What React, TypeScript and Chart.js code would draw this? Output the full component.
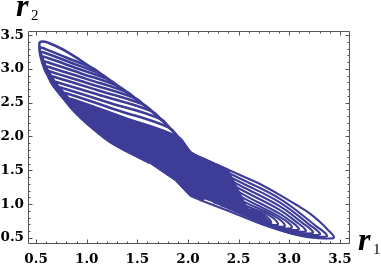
import React, { useEffect, useRef } from 'react';
import { Chart, registerables } from 'chart.js';

Chart.register(...registerables);

const BLUE = '#3d3d98';

const X_MIN = 0.42;
const X_MAX = 3.6;
const Y_MIN = 0.41;
const Y_MAX = 3.56;

const xMajorTicks = [0.5, 1.0, 1.5, 2.0, 2.5, 3.0, 3.5];
const xTickLabels = ['0.5', '1.0', '1.5', '2.0', '2.5', '3.0', '3.5'];
const yMajorTicks = [0.5, 1.0, 1.5, 2.0, 2.5, 3.0, 3.5];
const yTickLabels = ['0.5', '1.0', '1.5', '2.0', '2.5', '3.0', '3.5'];
const minorTicks = [0.6, 0.7, 0.8, 0.9, 1.1, 1.2, 1.3, 1.4, 1.6, 1.7, 1.8, 1.9, 2.1, 2.2, 2.3, 2.4, 2.6, 2.7, 2.8, 2.9, 3.1, 3.2, 3.3, 3.4];

const xTitle = 'r';
const xTitleSub = '1';
const yTitle = 'r';
const yTitleSub = '2';

// dense centre of the orbit
const core: [number, number][] = [[0.828,2.554],[0.878,2.539],[1.362,2.282],[1.896,1.996],[1.995,1.822],[2.049,1.748],[2.168,1.674],[2.296,1.585],[2.395,1.519],[2.593,0.928],[2.711,0.877],[2.820,0.736],[2.751,0.718],[2.524,0.893],[2.178,1.079],[2.119,1.053],[2.020,1.115],[1.872,1.348],[1.625,1.600],[1.427,1.748],[1.230,1.911],[1.072,2.088],[0.943,2.258],[0.845,2.406],[0.828,2.554]];

// loops turning in the upper-left lobe
const loopC0: [number, number][] = [[1.625,1.609],[1.427,1.757],[1.230,1.921],[1.077,2.098],[0.948,2.266],[0.850,2.414],[0.751,2.598],[0.701,2.687],[0.652,2.791],[0.618,2.894],[0.583,2.998],[0.543,3.190],[0.534,3.316],[0.537,3.393],[0.588,3.400],[0.637,3.375],[0.736,3.309],[0.835,3.227],[0.934,3.131],[1.131,2.931],[1.329,2.724],[1.526,2.510],[1.724,2.266],[1.872,2.044],[2.020,1.777]];
const loopC1: [number, number][] = [[0.914,2.317],[0.785,2.539],[0.671,2.761],[0.593,2.983],[0.546,3.224],[0.537,3.313],[0.586,3.296],[0.797,3.168],[1.057,3.009],[1.156,2.905]];
const loopC2: [number, number][] = [[0.920,2.317],[0.790,2.539],[0.677,2.761],[0.599,2.983],[0.561,3.158],[0.547,3.246],[0.597,3.230],[0.844,3.091],[1.141,2.921],[1.240,2.817]];
const loopC3: [number, number][] = [[0.925,2.317],[0.796,2.539],[0.682,2.761],[0.604,2.983],[0.580,3.090],[0.559,3.178],[0.609,3.163],[0.892,3.013],[1.225,2.833],[1.324,2.729]];
const loopC4: [number, number][] = [[0.931,2.317],[0.801,2.539],[0.688,2.761],[0.601,3.017],[0.579,3.106],[0.628,3.091],[0.944,2.933],[1.309,2.745],[1.408,2.641]];
const loopC5: [number, number][] = [[0.936,2.317],[0.807,2.539],[0.693,2.761],[0.628,2.943],[0.600,3.032],[0.649,3.018],[0.996,2.852],[1.393,2.657],[1.492,2.548]];
const loopC6: [number, number][] = [[0.941,2.317],[0.812,2.539],[0.699,2.761],[0.659,2.869],[0.626,2.958],[0.675,2.944],[1.051,2.769],[1.477,2.565],[1.575,2.454]];
const loopC7: [number, number][] = [[0.947,2.317],[0.818,2.539],[0.689,2.794],[0.657,2.883],[0.706,2.869],[1.109,2.684],[1.561,2.471],[1.659,2.352]];
const loopC8: [number, number][] = [[0.952,2.317],[0.823,2.539],[0.732,2.714],[0.689,2.803],[0.738,2.789],[1.167,2.595],[1.645,2.372],[1.743,2.236]];
const loopC9: [number, number][] = [[0.958,2.317],[0.857,2.480],[0.782,2.631],[0.732,2.720],[0.781,2.706],[1.230,2.496],[1.729,2.258],[1.827,2.110]];
const loopC10: [number, number][] = [[0.963,2.317],[0.828,2.550],[0.780,2.638],[0.829,2.624],[1.296,2.393],[1.812,2.132],[1.911,1.971]];
const loopC11: [number, number][] = [[0.969,2.317],[0.876,2.465],[0.828,2.554],[0.878,2.539],[1.362,2.282],[1.896,1.996],[1.995,1.822]];

// loops turning in the lower-right lobe
const loopU0: [number, number][] = [[2.020,1.777],[2.119,1.689],[2.346,1.541],[2.514,1.430],[2.681,1.319],[2.909,1.134],[3.106,0.956],[3.205,0.860],[3.304,0.735],[3.373,0.633],[3.442,0.510],[3.373,0.492],[3.146,0.520],[2.800,0.664],[2.415,0.890],[2.119,1.060]];
const loopU1: [number, number][] = [[2.168,1.622],[2.514,1.378],[2.909,1.078],[3.264,0.675],[3.373,0.535],[3.304,0.517],[3.077,0.547],[2.731,0.714]];
const loopU2: [number, number][] = [[2.168,1.588],[2.514,1.326],[2.909,1.023],[3.195,0.701],[3.304,0.560],[3.235,0.542],[3.007,0.582],[2.662,0.764]];
const loopU3: [number, number][] = [[2.168,1.554],[2.514,1.275],[2.909,0.967],[3.126,0.726],[3.235,0.585],[3.165,0.567],[2.938,0.618],[2.593,0.814]];
const loopU4: [number, number][] = [[2.168,1.520],[2.514,1.223],[2.909,0.912],[3.057,0.751],[3.165,0.610],[3.096,0.593],[2.869,0.653],[2.524,0.859]];
const loopU5: [number, number][] = [[2.168,1.486],[2.514,1.171],[2.909,0.856],[2.988,0.776],[3.096,0.635],[3.027,0.618],[2.800,0.696],[2.454,0.902]];
const loopU6: [number, number][] = [[2.168,1.452],[2.514,1.119],[2.919,0.801],[3.027,0.661],[2.958,0.643],[2.731,0.746],[2.385,0.945]];
const loopU7: [number, number][] = [[2.168,1.418],[2.514,1.067],[2.849,0.826],[2.958,0.686],[2.889,0.668],[2.662,0.798],[2.316,0.988]];
const loopU8: [number, number][] = [[2.168,1.384],[2.514,1.016],[2.780,0.851],[2.889,0.711],[2.820,0.693],[2.593,0.848],[2.247,1.030]];
const loopU9: [number, number][] = [[2.168,1.350],[2.514,0.964],[2.711,0.877],[2.820,0.736],[2.751,0.718],[2.524,0.893],[2.178,1.079]];

const upperLoops = [loopC0, loopC1, loopC2, loopC3, loopC4, loopC5, loopC6, loopC7, loopC8, loopC9, loopC10, loopC11];
const lowerLoops = [loopU0, loopU1, loopU2, loopU3, loopU4, loopU5, loopU6, loopU7, loopU8, loopU9];

const toXY = (pts: [number, number][]) => pts.map(([x, y]) => ({ x, y }));

const framePlugin = {
  id: 'frameAndTitles',
  afterDraw(chart: any) {
    const { ctx, chartArea, scales } = chart;
    const { left, right, top, bottom } = chartArea;
    const xs = scales.x;
    const ys = scales.y;
    ctx.save();
    ctx.strokeStyle = '#555';
    ctx.lineWidth = 1;
    ctx.beginPath();
    ctx.rect(left + 0.5, top + 0.5, right - left - 1, bottom - top - 1);
    ctx.stroke();
    const drawX = (v: number, len: number) => {
      const p = Math.round(xs.getPixelForValue(v)) + 0.5;
      ctx.moveTo(p, bottom);
      ctx.lineTo(p, bottom - len);
      ctx.moveTo(p, top);
      ctx.lineTo(p, top + len);
    };
    const drawY = (v: number, len: number) => {
      const p = Math.round(ys.getPixelForValue(v)) + 0.5;
      ctx.moveTo(left, p);
      ctx.lineTo(left + len, p);
      ctx.moveTo(right, p);
      ctx.lineTo(right - len, p);
    };
    ctx.beginPath();
    xMajorTicks.forEach((v) => drawX(v, 4.5));
    minorTicks.forEach((v) => drawX(v, 2.5));
    yMajorTicks.forEach((v) => drawY(v, 4.5));
    minorTicks.forEach((v) => drawY(v, 2.5));
    ctx.stroke();

    ctx.fillStyle = '#000';
    ctx.textBaseline = 'alphabetic';
    ctx.textAlign = 'left';
    ctx.font = 'italic bold 32px "Liberation Serif"';
    ctx.fillText(yTitle, 16, 16);
    ctx.fillText(xTitle, 358, 250);
    ctx.font = '15px "Liberation Serif"';
    ctx.fillText(yTitleSub, 31, 20);
    ctx.fillText(xTitleSub, 373, 254);
    ctx.restore();
  },
};

export default function App() {
  const ref = useRef<HTMLCanvasElement | null>(null);
  useEffect(() => {
    if (!ref.current) return;
    const tickFont = { family: '"DejaVu Serif"', weight: 'bold' as const, size: 13.5 };
    const datasets: any[] = [];
    datasets.push({
      data: toXY(core),
      borderColor: BLUE,
      borderWidth: 1,
      backgroundColor: BLUE,
      fill: 'shape',
      tension: 0,
      pointRadius: 0,
    });
    upperLoops.forEach((pts) => {
      datasets.push({
        data: toXY(pts),
        borderColor: BLUE,
        borderWidth: 2.6,
        fill: false,
        tension: 0.4,
        pointRadius: 0,
      });
    });
    lowerLoops.forEach((pts) => {
      datasets.push({
        data: toXY(pts),
        borderColor: BLUE,
        borderWidth: 2.1,
        fill: false,
        tension: 0.4,
        pointRadius: 0,
      });
    });
    const chart = new Chart(ref.current, {
      type: 'line',
      data: { datasets },
      options: {
        animation: false,
        responsive: false,
        devicePixelRatio: 1,
        events: [],
        layout: { padding: { top: 31, right: 31, left: 0, bottom: 0 } },
        plugins: { legend: { display: false }, tooltip: { enabled: false } },
        scales: {
          x: {
            type: 'linear',
            min: X_MIN,
            max: X_MAX,
            grid: { display: false, drawTicks: false },
            border: { display: false },
            afterBuildTicks: (s: any) => {
              s.ticks = xMajorTicks.map((v) => ({ value: v }));
            },
            afterFit: (s: any) => {
              s.height = 29;
            },
            ticks: {
              autoSkip: false,
              maxRotation: 0,
              padding: 7,
              color: '#000',
              font: tickFont,
              callback: (_v: any, i: number) => xTickLabels[i],
            },
          },
          y: {
            type: 'linear',
            min: Y_MIN,
            max: Y_MAX,
            grid: { display: false, drawTicks: false },
            border: { display: false },
            afterBuildTicks: (s: any) => {
              s.ticks = yMajorTicks.map((v) => ({ value: v }));
            },
            afterFit: (s: any) => {
              s.width = 28;
            },
            ticks: {
              autoSkip: false,
              padding: 4,
              color: '#000',
              font: tickFont,
              callback: (_v: any, i: number) => yTickLabels[i],
            },
          },
        },
      },
      plugins: [framePlugin],
    });
    return () => chart.destroy();
  }, []);
  return (
    <div style={{ position: 'absolute', left: 0, top: 0, width: 381, height: 273, background: '#fff' }}>
      <canvas ref={ref} width={381} height={273} style={{ width: 381, height: 273, display: 'block' }} />
    </div>
  );
}
